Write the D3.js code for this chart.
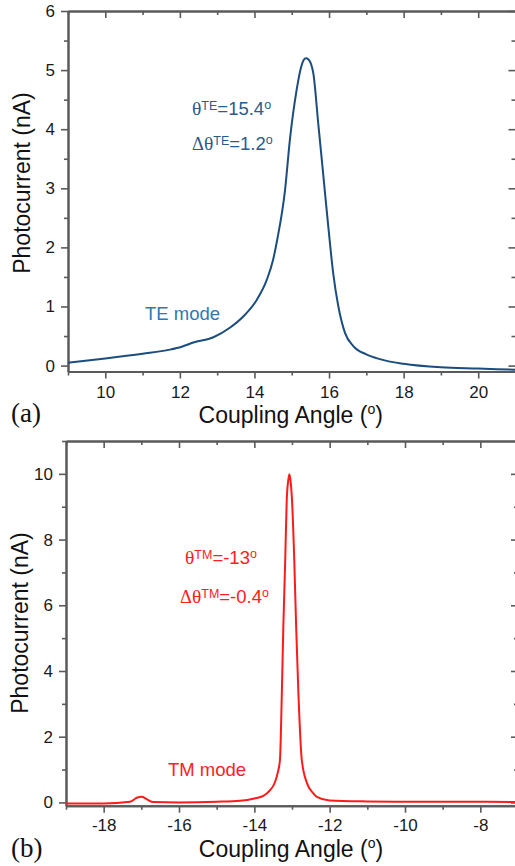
<!DOCTYPE html>
<html>
<head>
<meta charset="utf-8">
<script src="https://cdn.jsdelivr.net/npm/d3@7"></script>
<style>
  body { margin: 0; background: #fff; }
  svg text { font-family: "Liberation Sans", Arial, sans-serif; }
</style>
</head>
<body>
<div id="chart"></div>
<script>
// TE scan (panel a)
const teAngle = [9, 10, 11, 11.73, 12.05, 12.36, 12.9, 13.34, 13.7, 14.06, 14.33, 14.5, 14.61, 14.82, 14.95, 15.13, 15.25, 15.32, 15.38, 15.45, 15.52, 15.58, 15.71, 15.84, 15.98, 16.11, 16.25, 16.43, 16.65, 17.0, 17.36, 18, 19, 20, 21];
const teCurrent = [0.05, 0.12, 0.2, 0.27, 0.32, 0.39, 0.48, 0.64, 0.83, 1.11, 1.45, 1.79, 2.13, 2.97, 3.82, 4.66, 5.05, 5.17, 5.2, 5.18, 5.1, 4.94, 4.1, 3.26, 2.35, 1.57, 1.0, 0.55, 0.33, 0.19, 0.11, 0.03, -0.03, -0.05, -0.07];

// TM scan (panel b)
const tmAngle = [-19, -18, -17.3, -17.12, -16.99, -16.86, -16.68, -16, -15, -14.38, -14, -13.76, -13.6, -13.45, -13.38, -13.32, -13.27, -13.23, -13.18, -13.14, -13.1, -13.07, -13.04, -13.0, -12.94, -12.89, -12.83, -12.74, -12.6, -12.45, -12.34, -12.0, -11, -10, -9, -8, -7];
const tmCurrent = [-0.03, -0.03, 0.02, 0.14, 0.17, 0.1, 0.01, 0.0, 0.02, 0.05, 0.12, 0.2, 0.35, 0.62, 0.9, 1.29, 3.32, 5.35, 7.38, 9.2, 9.8, 9.99, 9.8, 9.2, 7.38, 5.35, 3.32, 1.29, 0.58, 0.3, 0.17, 0.06, 0.03, 0.02, 0.02, 0.02, 0.01];

const teXTicks = [10, 12, 14, 16, 18, 20];
const teXMinor = [9, 11, 13, 15, 17, 19, 21];
const teYTicks = [0, 1, 2, 3, 4, 5, 6];
const teYMinor = [0.5, 1.5, 2.5, 3.5, 4.5, 5.5];

const tmXTicks = [-18, -16, -14, -12, -10, -8];
const tmXMinor = [-19, -17, -15, -13, -11, -9, -7];
const tmYTicks = [0, 2, 4, 6, 8, 10];
const tmYMinor = [1, 3, 5, 7, 9, 11];

const svg = d3.select("#chart")
    .append("svg")
    .attr("width", 515)
    .attr("height", 866);

const plain = d => String(d); // hyphen minus, no decimals

function drawPanel(p) {
    const x = d3.scaleLinear().domain(p.xDomain).range([p.left, p.right]);
    const y = d3.scaleLinear().domain(p.yDomain).range([p.bottom, p.top]);
    const g = svg.append("g");

    // bottom axis, outward ticks with labels
    g.append("g")
        .attr("transform", `translate(0, ${p.bottom})`)
        .call(d3.axisBottom(x).tickValues(p.xTicks).tickSize(7).tickSizeOuter(0).tickPadding(p.xPad).tickFormat(plain));
    g.append("g")
        .attr("transform", `translate(0, ${p.bottom})`)
        .call(d3.axisBottom(x).tickValues(p.xMinor).tickSize(4).tickSizeOuter(0).tickFormat(""));
    // left axis
    g.append("g")
        .attr("transform", `translate(${p.left}, 0)`)
        .call(d3.axisLeft(y).tickValues(p.yTicks).tickSize(7).tickSizeOuter(0).tickPadding(6).tickFormat(plain));
    g.append("g")
        .attr("transform", `translate(${p.left}, 0)`)
        .call(d3.axisLeft(y).tickValues(p.yMinor).tickSize(4).tickSizeOuter(0).tickFormat(""));
    // top axis, ticks pointing inward
    g.append("g")
        .attr("transform", `translate(0, ${p.top})`)
        .call(d3.axisBottom(x).tickValues(p.xTicks).tickSize(7).tickSizeOuter(0).tickFormat(""));
    g.append("g")
        .attr("transform", `translate(0, ${p.top})`)
        .call(d3.axisBottom(x).tickValues(p.xMinor).tickSize(4).tickSizeOuter(0).tickFormat(""));
    // right axis, ticks pointing inward
    g.append("g")
        .attr("transform", `translate(${p.right}, 0)`)
        .call(d3.axisLeft(y).tickValues(p.yTicks).tickSize(7).tickSizeOuter(0).tickFormat(""));
    g.append("g")
        .attr("transform", `translate(${p.right}, 0)`)
        .call(d3.axisLeft(y).tickValues(p.yMinor).tickSize(4).tickSizeOuter(0).tickFormat(""));

    g.selectAll(".domain").attr("stroke", "#5a5a5a").attr("stroke-width", 2);
    g.selectAll(".tick line").attr("stroke", "#5a5a5a").attr("stroke-width", 1.6);
    g.selectAll(".tick text")
        .attr("fill", "#1a1a1a")
        .style("font-size", "17px")
        .style("font-family", "'Liberation Sans', Arial, sans-serif");

    // data line
    const line = d3.line()
        .x(d => x(d[0]))
        .y(d => y(d[1]))
        .curve(d3.curveMonotoneX);
    g.append("path")
        .datum(d3.zip(p.xs, p.ys))
        .attr("d", line)
        .attr("fill", "none")
        .attr("stroke", p.lineColor)
        .attr("stroke-width", 2)
        .attr("stroke-linejoin", "round");

    // axis titles
    const xt = g.append("text")
        .attr("x", (p.left + p.right) / 2 - 1)
        .attr("y", p.xTitleY)
        .attr("text-anchor", "middle")
        .attr("fill", "#111")
        .style("font-size", "23px");
    xt.append("tspan").text("Coupling Angle (");
    xt.append("tspan").attr("dy", -9).style("font-size", "14px").text("o");
    xt.append("tspan").attr("dy", 9).text(")");

    g.append("text")
        .attr("transform", `translate(${p.yTitleX}, ${p.yTitleY}) rotate(-90)`)
        .attr("text-anchor", "middle")
        .attr("fill", "#111")
        .style("font-size", "23px")
        .text("Photocurrent (nA)");

    // panel letter
    g.append("text")
        .attr("x", 11)
        .attr("y", p.letterY)
        .attr("fill", "#111")
        .style("font-family", "'Liberation Serif', 'Times New Roman', serif")
        .style("font-size", "27px")
        .text(p.letter);

    // annotations
    p.notes.forEach(n => {
        const t = g.append("text")
            .attr("x", n.x)
            .attr("y", n.y)
            .attr("fill", n.color)
            .style("font-size", "18.5px");
        if (n.delta) t.append("tspan").style("font-family", "'Liberation Serif', serif").text("\u0394");
        t.append("tspan").style("font-family", "'Liberation Serif', serif").style("font-size", "19.5px").text("\u03b8");
        t.append("tspan").attr("dy", -5).style("font-size", "12.5px").text(n.mode);
        t.append("tspan").attr("dy", 5).text("=" + n.value);
        t.append("tspan").attr("dy", -6).style("font-size", "12.5px").text("o");
    });

    g.append("text")
        .attr("x", p.modeX)
        .attr("y", p.modeY)
        .attr("fill", p.modeColor)
        .style("font-size", "18.5px")
        .text(p.modeText);
}

drawPanel({
    xs: teAngle, ys: teCurrent,
    xDomain: [9, 21], yDomain: [-0.1, 6],
    left: 68, right: 515.5, top: 11, bottom: 371.5,
    xTicks: teXTicks, xMinor: teXMinor, yTicks: teYTicks, yMinor: teYMinor,
    xPad: 7,
    lineColor: "#1b4d7e",
    xTitleY: 423, yTitleX: 30, yTitleY: 183,
    letter: "(a)", letterY: 422,
    notes: [
        { x: 192, y: 115, mode: "TE", value: "15.4", color: "#2a5b8c", delta: false },
        { x: 192, y: 150, mode: "TE", value: "1.2", color: "#2a5b8c", delta: true }
    ],
    modeText: "TE mode", modeX: 145, modeY: 320, modeColor: "#2e78b7"
});

drawPanel({
    xs: tmAngle, ys: tmCurrent,
    xDomain: [-19, -7], yDomain: [-0.1, 11],
    left: 66, right: 518, top: 441, bottom: 805.7,
    xTicks: tmXTicks, xMinor: tmXMinor, yTicks: tmYTicks, yMinor: tmYMinor,
    xPad: 6,
    lineColor: "#ff1a1a",
    xTitleY: 857, yTitleX: 28, yTitleY: 623,
    letter: "(b)", letterY: 857,
    notes: [
        { x: 185, y: 564, mode: "TM", value: "-13", color: "#ff2020", delta: false },
        { x: 180, y: 603, mode: "TM", value: "-0.4", color: "#ff2020", delta: true }
    ],
    modeText: "TM mode", modeX: 168, modeY: 776, modeColor: "#ff2020"
});
</script>
</body>
</html>
